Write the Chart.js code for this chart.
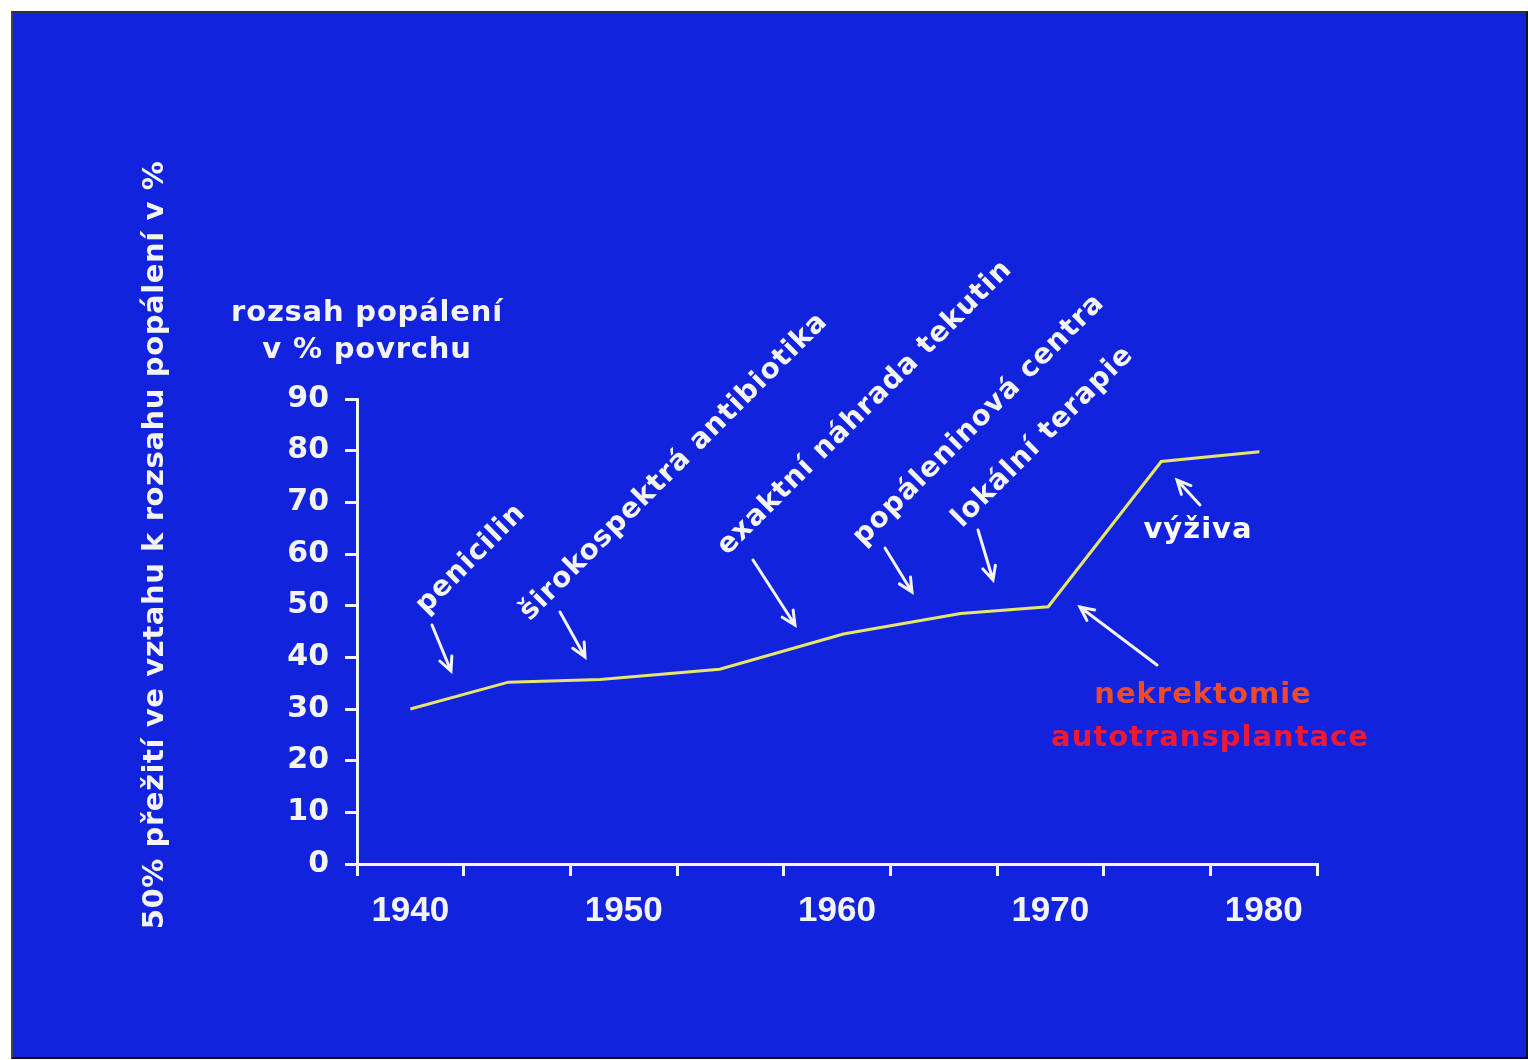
<!DOCTYPE html>
<html>
<head>
<meta charset="utf-8">
<script src="https://cdn.jsdelivr.net/npm/chart.js@4/dist/chart.umd.min.js"></script>
<style>
  html, body { margin: 0; padding: 0; background: #ffffff; }
  #frame { position: absolute; left: 11px; top: 11px; width: 1513px; height: 1044px;
           background: #1223de; border: 2px solid #111; border-left-color: #444; border-top-color: #333; }
  #wrap { position: absolute; left: 0; top: 0; width: 1528px; height: 1060px; }
  canvas { display: block; }
</style>
</head>
<body>
<div id="frame"></div>
<div id="wrap"><canvas id="c" width="1528" height="1060"></canvas></div>
<script>
// ---- data ----
const years  = [1940, 1944.6, 1948.9, 1954.5, 1960.3, 1965.8, 1969.9, 1975.2, 1979.8];
const values = [30.0, 35.2, 35.7, 37.7, 44.5, 48.5, 49.8, 77.9, 79.8];
const yTicks = [0, 10, 20, 30, 40, 50, 60, 70, 80, 90];
const xLabelYears = [1940, 1950, 1960, 1970, 1980];
const yAxisTitle = '50% přežití ve vztahu k rozsahu popálení v %';
const yUnitTitle = ['rozsah popálení', 'v % povrchu'];

// ---- annotation layout (pixels) ----
const rotatedNotes = [
  { text: 'penicilin', cx: 471, cy: 559 },
  { text: 'širokospektrá antibiotika', cx: 674, cy: 467 },
  { text: 'exaktní náhrada tekutin', cx: 865, cy: 408 },
  { text: 'popáleninová centra', cx: 979, cy: 420 },
  { text: 'lokální terapie', cx: 1043, cy: 437 }
];
const flatNotes = [
  { text: 'výživa', cx: 1198, cy: 530, color: '#ffffff' },
  { text: 'nekrektomie', cx: 1203, cy: 695, color: '#ef4b2b' },
  { text: 'autotransplantace', cx: 1210, cy: 738, color: '#ec1a36' }
];
const arrows = [
  [432, 625, 451, 671],
  [560, 612, 585, 657],
  [753, 560, 795, 625],
  [885, 548, 912, 592],
  [978, 530, 993, 580],
  [1200, 505, 1177, 480],
  [1157, 665, 1080, 607]
];

const WHITE = '#f4f4f4';
const BOLD = '"DejaVu Sans", sans-serif';

const notesPlugin = {
  id: 'notes',
  afterDraw(chart) {
    const ctx = chart.ctx;
    ctx.save();
    ctx.fillStyle = WHITE;
    ctx.textAlign = 'center';
    ctx.textBaseline = 'middle';
    // vertical axis title
    ctx.save();
    ctx.translate(155, 545);
    ctx.rotate(-Math.PI / 2);
    ctx.font = 'bold 29px ' + BOLD;
    ctx.letterSpacing = '0.6px';
    ctx.fillText(yAxisTitle, 0, 0);
    ctx.restore();
    // unit title
    ctx.font = 'bold 29px ' + BOLD;
    ctx.letterSpacing = '0.8px';
    ctx.fillText(yUnitTitle[0], 367, 313);
    ctx.fillText(yUnitTitle[1], 367, 350);
    // rotated notes
    ctx.font = 'bold 28px ' + BOLD;
    ctx.letterSpacing = '1px';
    rotatedNotes.forEach(n => {
      ctx.save();
      ctx.translate(n.cx, n.cy);
      ctx.rotate(-Math.PI / 4);
      ctx.fillText(n.text, 0, 0);
      ctx.restore();
    });
    // flat notes
    ctx.font = 'bold 29px ' + BOLD;
    ctx.letterSpacing = '1px';
    flatNotes.forEach(n => {
      ctx.fillStyle = n.color;
      ctx.fillText(n.text, n.cx, n.cy);
    });
    ctx.letterSpacing = '0px';
    // arrows
    ctx.strokeStyle = WHITE;
    ctx.lineWidth = 3;
    ctx.lineCap = 'round';
    arrows.forEach(([x1, y1, x2, y2]) => {
      const a = Math.atan2(y2 - y1, x2 - x1);
      const h = 15, s = Math.PI / 7;
      ctx.beginPath();
      ctx.moveTo(x1, y1); ctx.lineTo(x2, y2);
      ctx.moveTo(x2 - h * Math.cos(a - s), y2 - h * Math.sin(a - s));
      ctx.lineTo(x2, y2);
      ctx.lineTo(x2 - h * Math.cos(a + s), y2 - h * Math.sin(a + s));
      ctx.stroke();
    });
    ctx.restore();
  }
};

new Chart(document.getElementById('c'), {
  type: 'line',
  data: {
    datasets: [{
      data: years.map((y, i) => ({ x: y, y: values[i] })),
      borderColor: '#e6e66e',
      borderWidth: 3,
      pointRadius: 0,
      tension: 0,
      fill: false
    }]
  },
  options: {
    responsive: false,
    animation: false,
    devicePixelRatio: 1,
    layout: { padding: { left: 200, top: 399, right: 211, bottom: 100 } },
    plugins: { legend: { display: false }, tooltip: { enabled: false } },
    scales: {
      x: {
        type: 'linear',
        min: 1937.5,
        max: 1982.5,
        afterFit(s) { s.height = 96; },
        afterBuildTicks(s) {
          const t = [];
          for (let v = 1937.5; v <= 1982.5 + 1e-6; v += 2.5) t.push({ value: v });
          s.ticks = t;
        },
        ticks: {
          autoSkip: false,
          maxRotation: 0,
          padding: 14,
          color: WHITE,
          font: { family: '"Liberation Sans", Arial, sans-serif', weight: 'bold', size: 35 },
          callback: v => (xLabelYears.includes(v) ? String(v) : '')
        },
        grid: {
          drawOnChartArea: false,
          drawTicks: true,
          tickLength: 12,
          lineWidth: 3,
          color: c => (c.tick && Math.abs(((c.tick.value - 1937.5) % 5)) < 1e-6 ? WHITE : 'rgba(0,0,0,0)')
        },
        border: { display: true, color: WHITE, width: 3 }
      },
      y: {
        min: 0,
        max: 90,
        afterFit(s) { s.width = 157; },
        afterBuildTicks(s) { s.ticks = yTicks.map(v => ({ value: v })); },
        ticks: {
          padding: 16,
          color: WHITE,
          font: { family: BOLD, weight: 'bold', size: 30 }
        },
        grid: {
          drawOnChartArea: false,
          drawTicks: true,
          tickLength: 12,
          lineWidth: 3,
          color: WHITE
        },
        border: { display: true, color: WHITE, width: 3 }
      }
    }
  },
  plugins: [notesPlugin]
});
</script>
</body>
</html>
